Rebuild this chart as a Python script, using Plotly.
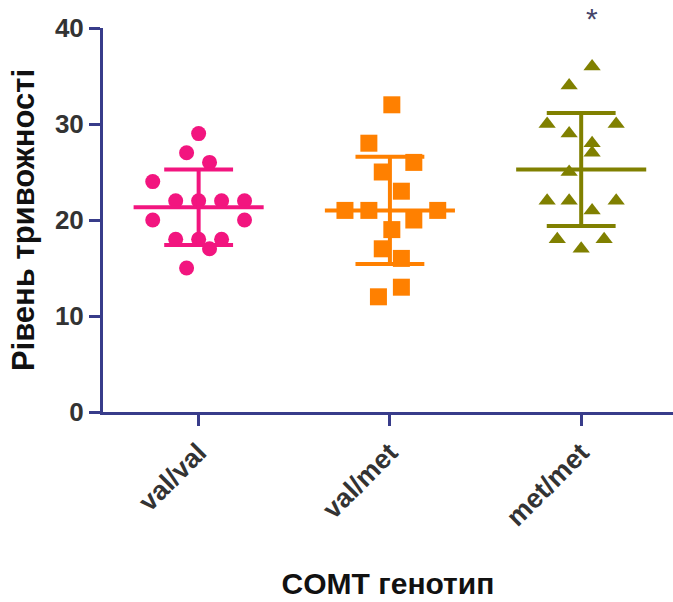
import numpy as np
import plotly.graph_objects as go

# ---- data ----
categories = ["val/val", "val/met", "met/met"]

valval = [29, 27, 26, 24, 22, 22, 22, 22, 20, 20, 18, 18, 18, 17, 15]
valval_jitter = [0, -0.063, 0.057, -0.24, -0.12, 0, 0.12, 0.24, -0.24, 0.24, -0.12, 0, 0.12, 0.057, -0.063]

valmet = [32, 28, 26, 25, 23, 21, 21, 21, 20, 19, 17, 16, 13, 12]
valmet_jitter = [0.01, -0.11, 0.125, -0.04, 0.06, -0.235, -0.11, 0.25, 0.125, 0.01, -0.04, 0.06, 0.06, -0.06]

metmet = [36, 34, 30, 30, 29, 28, 27, 25, 22, 22, 22, 21, 18, 18, 17]
metmet_jitter = [0.057, -0.063, -0.178, 0.183, -0.063, 0.057, 0.057, -0.063, -0.178, -0.063, 0.183, 0.057, -0.125, 0.12, 0]

y_ticks = [0, 10, 20, 30, 40]
sig_label = "*"
sig_level = 41.3  # height of significance mark, in axis units

# ---- style ----
colors = ["#F2157F", "#FF8000", "#808000"]
symbols = ["circle", "square", "triangle-up"]
sizes = [15, 17, 15]
AXIS = "#383C8A"
FONT = "Liberation Sans, Arial, sans-serif"
MEAN_HALF = 0.34
SD_HALF = 0.18
Y_RANGE = [0, 40]

groups = [(valval, valval_jitter), (valmet, valmet_jitter), (metmet, metmet_jitter)]

fig = go.Figure()

for i, (vals, jit) in enumerate(groups):
    xs = [i + j for j in jit]
    fig.add_trace(go.Scatter(
        x=xs, y=vals, mode="markers",
        marker=dict(symbol=symbols[i], size=sizes[i], color=colors[i], line=dict(width=0)),
        showlegend=False, hoverinfo="y", cliponaxis=False))

for i, (vals, jit) in enumerate(groups):
    m = float(np.mean(vals))
    sd = float(np.std(vals, ddof=1))
    lx = [i - MEAN_HALF, i + MEAN_HALF, None,
          i - SD_HALF, i + SD_HALF, None,
          i - SD_HALF, i + SD_HALF, None,
          i, i]
    ly = [m, m, None, m + sd, m + sd, None, m - sd, m - sd, None, m + sd, m - sd]
    fig.add_trace(go.Scatter(
        x=lx, y=ly, mode="lines",
        line=dict(color=colors[i], width=4),
        showlegend=False, hoverinfo="skip", cliponaxis=False))

# significance mark above met/met (outside y range -> paper coords)
sig_paper_y = (sig_level - Y_RANGE[0]) / (Y_RANGE[1] - Y_RANGE[0])
fig.add_annotation(
    x=2, y=sig_paper_y, xref="x", yref="paper", text=sig_label, showarrow=False,
    xshift=11, yshift=-3, yanchor="middle",
    font=dict(family=FONT, size=30, color="#45456A"))

fig.update_layout(
    width=673, height=602,
    margin=dict(l=103, r=0, t=28, b=190),
    paper_bgcolor="white", plot_bgcolor="white",
    font=dict(family=FONT, color="#333333"),
)

fig.update_xaxes(
    range=[-0.5, 2.48],
    tickvals=[0, 1, 2], ticktext=categories,
    tickangle=-45,
    tickfont=dict(family=FONT, size=27, color="#333333", weight="bold"),
    ticks="outside", ticklen=11, tickwidth=3, tickcolor=AXIS,
    showline=True, linecolor=AXIS, linewidth=3,
    showgrid=False, zeroline=False,
    title=dict(text="COMT генотип", font=dict(family=FONT, size=30, color="#111111", weight="bold"), standoff=43),
)

fig.update_yaxes(
    range=Y_RANGE,
    tickvals=y_ticks,
    tickfont=dict(family=FONT, size=26, color="#333333", weight="bold"),
    ticks="outside", ticklen=11, tickwidth=3, tickcolor=AXIS,
    showline=True, linecolor=AXIS, linewidth=3,
    showgrid=False, zeroline=False,
    title=dict(text="Рівень тривожності", font=dict(family=FONT, size=31, color="#111111", weight="bold"), standoff=12),
)

fig.write_html("out.html")
